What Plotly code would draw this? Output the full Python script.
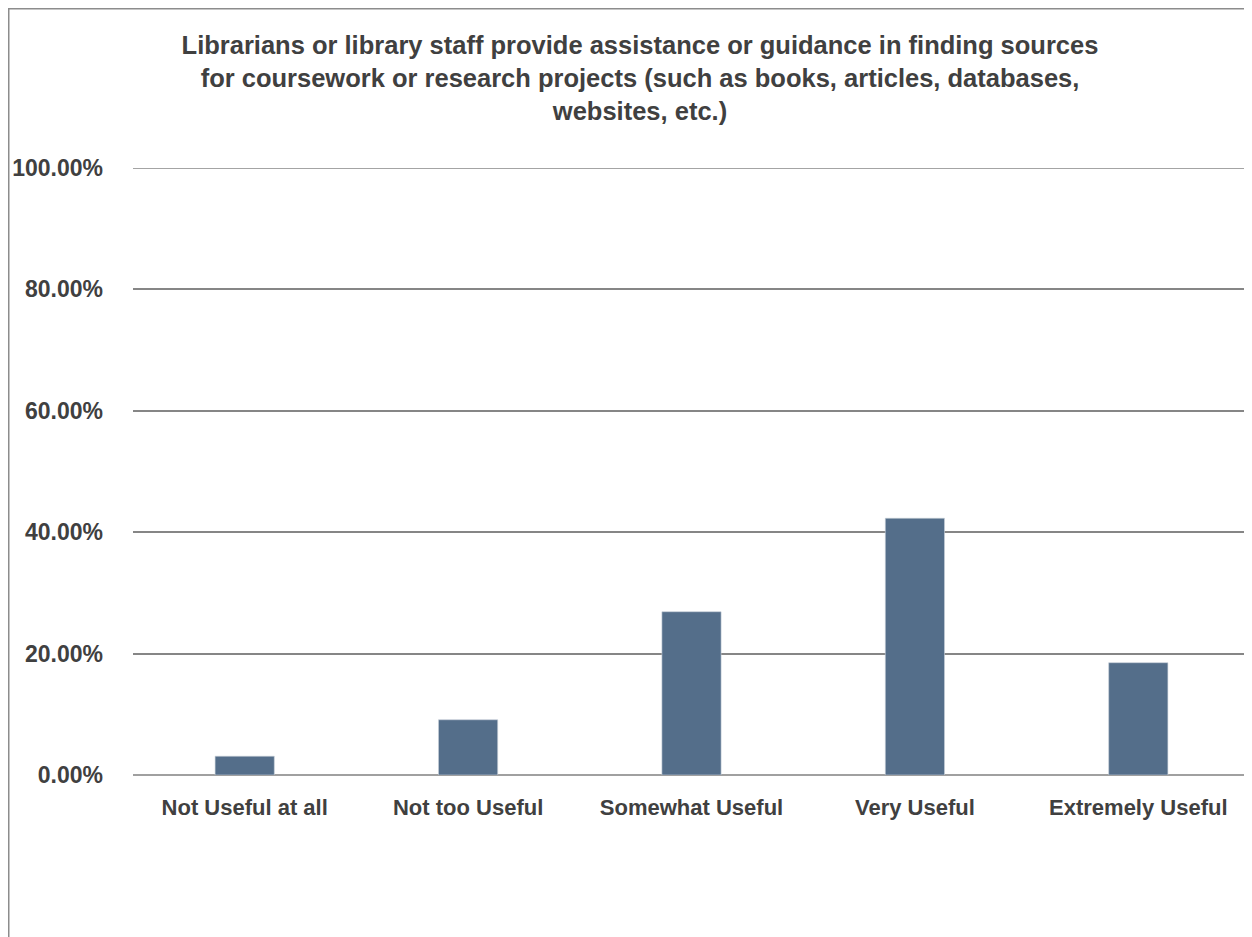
import plotly.graph_objects as go

categories = ["Not Useful at all", "Not too Useful", "Somewhat Useful", "Very Useful", "Extremely Useful"]
values = [3.1, 9.1, 26.9, 42.3, 18.5]
tick_vals = [0, 20, 40, 60, 80, 100]
tick_text = ["0.00%", "20.00%", "40.00%", "60.00%", "80.00%", "100.00%"]
title_text = ("Librarians or library staff provide assistance or guidance in finding sources<br>"
              "for coursework or research projects (such as books, articles, databases,<br>"
              "websites, etc.)")

W, H = 1252, 937
ML, MR, MT, MB = 125, 10, 160, 170
pw, ph = W - ML - MR, H - MT - MB

def px_x(p):
    return (p - ML) / pw

def px_y(p):
    return (H - MB - p) / ph

font_family = "Liberation Sans, Arial, sans-serif"
text_color = "#404040"
grid_color = "#868686"

fig = go.Figure(go.Bar(
    x=categories, y=values,
    marker=dict(color="#546E8A", line=dict(color="#C9D1DA", width=0.6)),
    hoverinfo="x+y",
))

fig.update_layout(
    width=W, height=H,
    margin=dict(l=ML, r=MR, t=MT, b=MB),
    paper_bgcolor="white", plot_bgcolor="white",
    bargap=0.735,
    showlegend=False,
    font=dict(family=font_family, color=text_color),
    title=dict(
        text=title_text,
        x=632 / W, xanchor="center", xref="container",
        y=1 - 46 / H, yanchor="middle", yref="container",
        font=dict(size=25.5, family=font_family, color=text_color, weight="bold"),
    ),
    xaxis=dict(
        showgrid=False, zeroline=False, showline=False, ticks="",
        tickfont=dict(size=22, color=text_color, weight="bold"),
        ticklabelstandoff=17, automargin=False,
    ),
    yaxis=dict(
        range=[0, 100], tickvals=tick_vals, ticktext=tick_text,
        showgrid=True, gridcolor=grid_color, gridwidth=1.5,
        zeroline=True, zerolinecolor="#A0A0A0", zerolinewidth=2,
        showline=False, ticks="",
        tickfont=dict(size=23, color=text_color, weight="bold"),
        ticklabelstandoff=29, automargin=False,
    ),
    shapes=[
        dict(type="line", xref="paper", yref="y", layer="below",
             x0=0, x1=1, y0=tick_vals[-1], y1=tick_vals[-1],
             line=dict(color=grid_color, width=1.5)),
        dict(type="line", xref="paper", yref="paper",
             x0=px_x(0), x1=px_x(W + 5), y0=px_y(0), y1=px_y(0),
             line=dict(color="#8C8C8C", width=3)),
        dict(type="line", xref="paper", yref="paper",
             x0=px_x(0), x1=px_x(0), y0=px_y(0), y1=px_y(H + 5),
             line=dict(color="#8C8C8C", width=3)),
    ],
)

fig.write_html("out.html")
